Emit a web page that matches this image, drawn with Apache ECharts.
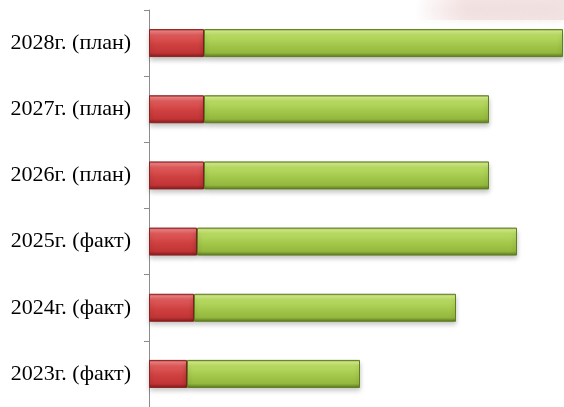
<!DOCTYPE html>
<html><head><meta charset="utf-8">
<script src="https://cdn.jsdelivr.net/npm/echarts@6/dist/echarts.min.js"></script>
<style>html,body{margin:0;padding:0;background:#fff}#c{width:564px;height:407px}</style>
</head><body><div id="c"></div>
<script>
const categories = ['2023г. (факт)', '2024г. (факт)', '2025г. (факт)', '2026г. (план)', '2027г. (план)', '2028г. (план)'];
const redValues = [38, 45, 48, 55, 55, 55];
const greenValues = [173, 262, 320, 285, 285, 359];

const chart = echarts.init(document.getElementById('c'));
const grad = (stops) => new echarts.graphic.LinearGradient(0, 0, 0, 1, stops.map((c, i) => ({offset: c[0], color: c[1]})));
const redFill = grad([[0, '#b83a3a'], [0.08, '#ef8080'], [0.22, '#e05a5a'], [0.55, '#cf4040'], [0.85, '#c13436'], [1, '#7e1a1a']]);
const greenFill = grad([[0, '#88ad38'], [0.08, '#d4ec8a'], [0.22, '#b9dc62'], [0.55, '#a3c84c'], [0.85, '#93b83d'], [1, '#5a7520']]);

chart.setOption({
  animation: false,
  graphic: [{
    type: 'rect', left: 415, top: 0, shape: {width: 149, height: 20},
    style: {
      fill: new echarts.graphic.LinearGradient(0, 0, 1, 0, [
        {offset: 0, color: 'rgba(245,228,228,0)'},
        {offset: 0.35, color: 'rgba(240,220,220,0.7)'},
        {offset: 1, color: 'rgba(240,222,222,0.8)'}]),
      shadowBlur: 10, shadowColor: 'rgba(240,222,222,0.9)'
    }, z: -1
  }],
  grid: {left: 149, width: 415, top: 10, bottom: -1, containLabel: false},
  xAxis: {type: 'value', min: 0, max: 415, show: false},
  yAxis: {
    type: 'category', data: categories,
    axisLine: {show: true, lineStyle: {color: '#8c8c8c', width: 1}},
    axisTick: {show: true, length: 5, lineStyle: {color: '#8c8c8c'}},
    axisLabel: {margin: 18, color: '#000', fontFamily: 'Liberation Serif', fontSize: 22}
  },
  series: [
    {type: 'bar', stack: 'a', data: redValues, barWidth: 28,
     itemStyle: {color: redFill, borderColor: '#8a2222', borderWidth: 1,
       shadowColor: 'rgba(0,0,0,0.25)', shadowBlur: 5, shadowOffsetY: 3}},
    {type: 'bar', stack: 'a', data: greenValues, barWidth: 28,
     itemStyle: {color: greenFill, borderColor: '#5f7d22', borderWidth: 1,
       shadowColor: 'rgba(0,0,0,0.25)', shadowBlur: 5, shadowOffsetY: 3}}
  ]
});
</script></body></html>
